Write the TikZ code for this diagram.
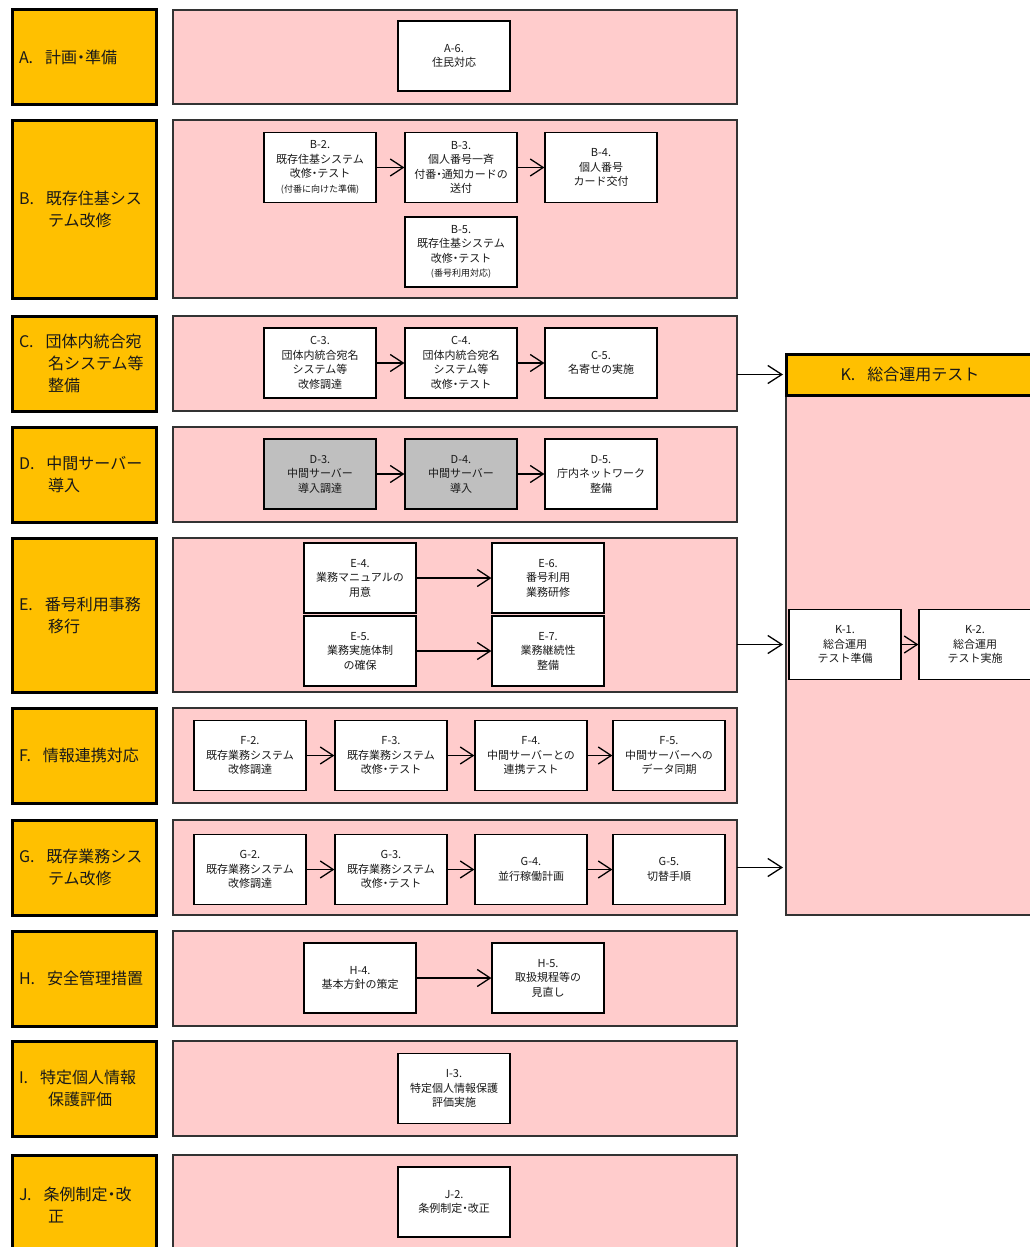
\documentclass[tikz,border=0pt]{standalone}
\usepackage{fontspec}
\setmainfont{Noto Sans CJK JP}
\usetikzlibrary{arrows.meta}

\definecolor{laneyellow}{HTML}{FFC000}
\definecolor{lanepink}{HTML}{FFCCCC}
\definecolor{taskgrey}{HTML}{BFBFBF}
\newcommand{\hang}{\\\hspace*{29pt}}
\newcommand{\mdot}{\makebox[0.5em]{・}}
\newcommand{\subnote}[1]{\\{\fontsize{9}{11}\selectfont #1}}

\tikzset{
  lanehead/.style={draw, line width=3pt, fill=laneyellow, anchor=north west, outer sep=0pt,
    minimum width=144pt, inner xsep=7pt, text width=130pt, align=left,
    font=\fontsize{16}{22}\selectfont},
  lanebody/.style={draw=black!80, line width=1.2pt, fill=lanepink, anchor=north west,
    outer sep=0pt, inner sep=0pt, minimum width=564pt},
  task/.style={draw, line width=1.2pt, fill=white, minimum width=112pt, minimum height=70pt,
    inner sep=0pt, align=center, font=\fontsize{11}{14.5}\selectfont},
  greytask/.style={task, fill=taskgrey},
  flow/.style={-{Straight Barb[length=13pt,width=17pt]}, line width=1.3pt},
  bigflow/.style={-{Straight Barb[length=14pt,width=18pt]}, line width=1.3pt, shorten >=3pt},
}

\begin{document}
\begin{tikzpicture}[x=1pt, y=-1pt, every node/.style={text=black!90}]
  \useasboundingbox (0,0) rectangle (1030,1247);

  % lanes
  \foreach \id/\ytop/\hgt/\txt in {
      A/10/94/{計画\mdot 準備},
      B/120/178/{既存住基シス\hang テム改修},
      C/316/95/{団体内統合宛\hang 名システム等\hang 整備},
      D/427/95/{中間サーバー\hang 導入},
      E/538/154/{番号利用事務\hang 移行},
      F/708/95/{情報連携対応},
      G/820/95/{既存業務シス\hang テム改修},
      H/931/95/{安全管理措置},
      I/1041/95/{特定個人情報\hang 保護評価},
      J/1155/100/{条例制定\mdot 改\hang 正}} {
    \node[lanebody, minimum height=\hgt pt] (lane\id) at (173,\ytop) {};
    \node[lanehead, minimum height=\hgt pt] (head\id) at (12,\ytop) {\id.\hspace{12pt}\txt};
  }

  % K: total operation test
  \node[lanebody, minimum width=260pt, minimum height=520pt] (kbody) at (786,395) {};
  \node[lanehead, minimum width=248pt, minimum height=41pt, text width=234pt, align=center]
    (khead) at (786,354) {K.\hspace{12pt}総合運用テスト};

  % tasks
  \node[task] (a6) at (454,56) {A-6.\\住民対応};

  \node[task] (b2) at (320,167.5) {B-2.\\既存住基システム\\改修\mdot テスト\subnote{(付番に向けた準備)}};
  \node[task] (b3) at (461,167.5) {B-3.\\個人番号一斉\\付番\mdot 通知カードの\\送付};
  \node[task] (b4) at (601,167.5) {B-4.\\個人番号\\カード交付};
  \node[task] (b5) at (461,252) {B-5.\\既存住基システム\\改修\mdot テスト\subnote{(番号利用対応)}};

  \node[task] (c3) at (320,363) {C-3.\\団体内統合宛名\\システム等\\改修調達};
  \node[task] (c4) at (461,363) {C-4.\\団体内統合宛名\\システム等\\改修\mdot テスト};
  \node[task] (c5) at (601,363) {C-5.\\名寄せの実施};

  \node[greytask] (d3) at (320,474) {D-3.\\中間サーバー\\導入調達};
  \node[greytask] (d4) at (461,474) {D-4.\\中間サーバー\\導入};
  \node[task] (d5) at (601,474) {D-5.\\庁内ネットワーク\\整備};

  \node[task] (e4) at (360,578) {E-4.\\業務マニュアルの\\用意};
  \node[task] (e5) at (360,651) {E-5.\\業務実施体制\\の確保};
  \node[task] (e6) at (548,578) {E-6.\\番号利用\\業務研修};
  \node[task] (e7) at (548,651) {E-7.\\業務継続性\\整備};

  \node[task] (f2) at (250,755.5) {F-2.\\既存業務システム\\改修調達};
  \node[task] (f3) at (391,755.5) {F-3.\\既存業務システム\\改修\mdot テスト};
  \node[task] (f4) at (531,755.5) {F-4.\\中間サーバーとの\\連携テスト};
  \node[task] (f5) at (669,755.5) {F-5.\\中間サーバーへの\\データ同期};

  \node[task] (g2) at (250,869.5) {G-2.\\既存業務システム\\改修調達};
  \node[task] (g3) at (391,869.5) {G-3.\\既存業務システム\\改修\mdot テスト};
  \node[task] (g4) at (531,869.5) {G-4.\\並行稼働計画};
  \node[task] (g5) at (669,869.5) {G-5.\\切替手順};

  \node[task] (h4) at (360,978) {H-4.\\基本方針の策定};
  \node[task] (h5) at (548,978) {H-5.\\取扱規程等の\\見直し};

  \node[task] (i3) at (454,1088.5) {I-3.\\特定個人情報保護\\評価実施};

  \node[task] (j2) at (454,1202) {J-2.\\条例制定\mdot 改正};

  \node[task] (k1) at (845,644.5) {K-1.\\総合運用\\テスト準備};
  \node[task] (k2) at (975,644.5) {K-2.\\総合運用\\テスト実施};

  % flows
  \draw[flow] (b2) -- (b3);
  \draw[flow] (b3) -- (b4);
  \draw[flow] (c3) -- (c4);
  \draw[flow] (c4) -- (c5);
  \draw[flow] (d3) -- (d4);
  \draw[flow] (d4) -- (d5);
  \draw[flow] (e4) -- (e6);
  \draw[flow] (e5) -- (e7);
  \draw[flow] (f2) -- (f3);
  \draw[flow] (f3) -- (f4);
  \draw[flow] (f4) -- (f5);
  \draw[flow] (g2) -- (g3);
  \draw[flow] (g3) -- (g4);
  \draw[flow] (g4) -- (g5);
  \draw[flow] (h4) -- (h5);
  \draw[flow] (k1) -- (k2);

  % into K
  \draw[bigflow] (laneC.east |- khead.west) -- (khead.west);
  \draw[bigflow] (laneE.east |- k1) -- (kbody.west |- k1);
  \draw[bigflow] (laneG.east) -- (laneG.east -| kbody.west);
\end{tikzpicture}
\end{document}
